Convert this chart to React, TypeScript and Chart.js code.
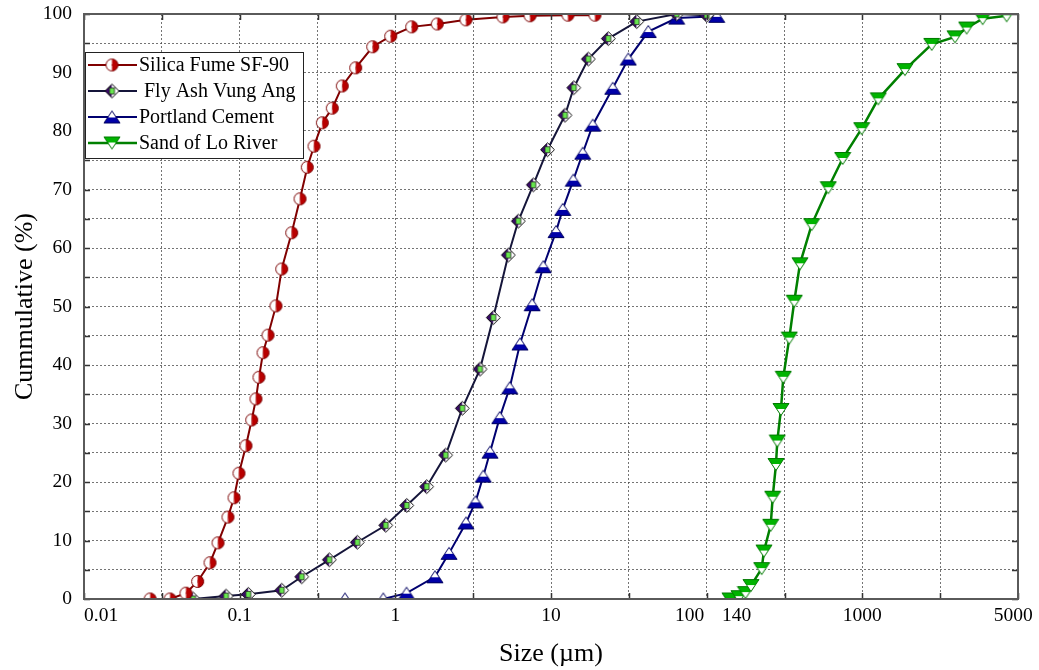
import React, { useEffect, useRef } from 'react';
import { Chart, registerables } from 'chart.js';

Chart.register(...registerables);

// ---------------- data ----------------
const seriesNames = ['Silica Fume SF-90', 'Fly Ash Vung Ang', 'Portland Cement', 'Sand of Lo River'];

const silicaSize = [0.0266, 0.0357, 0.0452, 0.0537, 0.0645, 0.0726, 0.0841, 0.092, 0.099, 0.1098, 0.1195, 0.1273, 0.1331, 0.1413, 0.1521, 0.1711, 0.1862, 0.2159, 0.2442, 0.2719, 0.3003, 0.3396, 0.3936, 0.4563, 0.5564, 0.7155, 0.9337, 1.274, 1.86, 2.844, 4.916, 7.33, 12.85, 19.17];
const silicaCum = [0, 0, 1.0, 3.0, 6.2, 9.6, 14.0, 17.3, 21.5, 26.2, 30.6, 34.2, 37.9, 42.1, 45.1, 50.1, 56.4, 62.6, 68.4, 73.8, 77.4, 81.4, 83.9, 87.7, 90.8, 94.4, 96.2, 97.8, 98.3, 99.0, 99.5, 99.7, 99.8, 99.8];

const flyAshSize = [0.0502, 0.0817, 0.1136, 0.1862, 0.2504, 0.3765, 0.5697, 0.8672, 1.183, 1.59, 2.106, 2.693, 3.499, 4.259, 5.318, 6.164, 7.695, 9.495, 12.3, 14.01, 17.36, 23.34, 35.52, 64.18, 100.0];
const flyAshCum = [0, 0.5, 0.8, 1.5, 3.8, 6.7, 9.7, 12.6, 16.0, 19.2, 24.6, 32.6, 39.3, 48.1, 58.8, 64.6, 70.8, 76.8, 82.7, 87.4, 92.3, 95.8, 98.7, 100, 99.8];

const cementSize = [0.4749, 0.837, 1.18, 1.798, 2.212, 2.843, 3.273, 3.674, 4.057, 4.682, 5.428, 6.321, 7.57, 8.924, 10.77, 11.89, 13.91, 15.98, 18.53, 24.91, 31.37, 42.17, 64.18, 116.0];
const cementCum = [0, 0, 1.0, 3.8, 7.8, 13.0, 16.6, 21.0, 25.1, 31.0, 36.1, 43.6, 50.3, 56.8, 62.8, 66.6, 71.6, 76.2, 81.0, 87.3, 92.3, 97.0, 99.3, 99.6];

const sandSize = [141.2, 161.3, 177.6, 192.6, 225.6, 233.4, 257.8, 265.5, 278.8, 284.2, 300.2, 310.6, 339.5, 365.4, 397.6, 472.7, 604.3, 747.5, 990.4, 1266, 1879, 2790, 3939, 4681, 5931, 8459];
const sandCum = [0, 0.4, 1.1, 2.3, 5.2, 8.2, 12.6, 17.4, 23.0, 27.0, 32.4, 37.9, 44.6, 50.9, 57.3, 64.0, 70.3, 75.3, 80.4, 85.5, 90.5, 94.8, 96.1, 97.6, 99.2, 99.7];

const xTickValues = [0.01, 0.1, 1, 10, 100, 140, 1000, 10000];
const xTickLabels = ['0.01', '0.1', '1', '10', '100', '140', '1000', '5000'];
const xGridExponents = [-2, -1.5, -1, -0.5, 0, 0.5, 1, 1.5, 2, 2.5, 3, 3.5, 4];
const yTickLabelsEvery = 10;

const xTitle = 'Size (\u00b5m)';
const yTitle = 'Cummulative (%)';

// ---------------- styles ----------------
const FONT = '"Liberation Serif", "Times New Roman", serif';
const TICK_FONT_SIZE = 19.5;
const lineColors = ['#800000', '#15153a', '#000070', '#008000'];
const lineWidths = [2, 2, 2, 2.5];
const gridColor = 'rgba(70,70,70,0.75)';
// visual nudges of some tick labels (px), as in the reference
const labelShift: Record<string, number> = { '0.01': 17, '100': -18, '140': 7, '5000': -5 };

function makeMarker(kind: string): HTMLCanvasElement {
  const c = document.createElement('canvas');
  const ctx = c.getContext('2d') as CanvasRenderingContext2D;
  if (kind === 'circle') {
    c.width = 15; c.height = 15;
    const cx = 7.5, cy = 7.5, r = 6;
    ctx.beginPath(); ctx.arc(cx, cy, r, Math.PI / 2, Math.PI * 1.5); ctx.closePath();
    ctx.fillStyle = '#ffffff'; ctx.fill();
    ctx.beginPath(); ctx.arc(cx, cy, r, -Math.PI / 2, Math.PI / 2); ctx.closePath();
    ctx.fillStyle = '#b80000'; ctx.fill();
    ctx.beginPath(); ctx.arc(cx, cy, r, 0, Math.PI * 2);
    ctx.strokeStyle = '#7a0000'; ctx.lineWidth = 1; ctx.stroke();
  } else if (kind === 'diamond') {
    c.width = 17; c.height = 17;
    const cx = 8.5, cy = 8.5, h = 7;
    ctx.beginPath(); ctx.moveTo(cx, cy - h); ctx.lineTo(cx - h, cy); ctx.lineTo(cx, cy + h); ctx.closePath();
    ctx.fillStyle = '#3a0a6a'; ctx.fill();
    ctx.beginPath(); ctx.moveTo(cx, cy - h); ctx.lineTo(cx + h, cy); ctx.lineTo(cx, cy + h); ctx.closePath();
    ctx.fillStyle = '#ffffff'; ctx.fill();
    ctx.beginPath(); ctx.moveTo(cx, cy - h); ctx.lineTo(cx + h, cy); ctx.lineTo(cx, cy + h); ctx.lineTo(cx - h, cy); ctx.closePath();
    ctx.strokeStyle = '#111111'; ctx.lineWidth = 1; ctx.stroke();
    ctx.fillStyle = '#66e64d'; ctx.fillRect(cx - 2.5, cy - 3, 5, 6);
    ctx.strokeStyle = '#222222'; ctx.lineWidth = 0.8; ctx.strokeRect(cx - 2.5, cy - 3, 5, 6);
  } else if (kind === 'triUp') {
    c.width = 18; c.height = 15;
    ctx.save();
    ctx.beginPath(); ctx.moveTo(9, 1.5); ctx.lineTo(17, 13.5); ctx.lineTo(1, 13.5); ctx.closePath();
    ctx.clip();
    ctx.fillStyle = '#ffffff'; ctx.fillRect(0, 0, 18, 8);
    ctx.fillStyle = '#0000a8'; ctx.fillRect(0, 8, 18, 7);
    ctx.restore();
    ctx.beginPath(); ctx.moveTo(9, 1.5); ctx.lineTo(17, 13.5); ctx.lineTo(1, 13.5); ctx.closePath();
    ctx.strokeStyle = '#000060'; ctx.lineWidth = 1; ctx.stroke();
  } else {
    c.width = 18; c.height = 15;
    ctx.save();
    ctx.beginPath(); ctx.moveTo(1, 1.5); ctx.lineTo(17, 1.5); ctx.lineTo(9, 13.5); ctx.closePath();
    ctx.clip();
    ctx.fillStyle = '#00b400'; ctx.fillRect(0, 0, 18, 7);
    ctx.fillStyle = '#ffffff'; ctx.fillRect(0, 7, 18, 8);
    ctx.restore();
    ctx.beginPath(); ctx.moveTo(1, 1.5); ctx.lineTo(17, 1.5); ctx.lineTo(9, 13.5); ctx.closePath();
    ctx.strokeStyle = '#007a00'; ctx.lineWidth = 1; ctx.stroke();
  }
  return c;
}

function padLabel(label: string): string {
  const shift = labelShift[label] || 0;
  if (!shift) return label;
  const n = Math.max(1, Math.round((Math.abs(shift) * 2) / (0.25 * TICK_FONT_SIZE)));
  const sp = ' '.repeat(n);
  return shift > 0 ? sp + label : label + sp;
}

export default function App() {
  const ref = useRef<HTMLCanvasElement | null>(null);

  useEffect(() => {
    if (!ref.current) return;
    const markers = [makeMarker('circle'), makeMarker('diamond'), makeMarker('triUp'), makeMarker('triDown')];
    const xs = [silicaSize, flyAshSize, cementSize, sandSize];
    const ys = [silicaCum, flyAshCum, cementCum, sandCum];

    const gridValues = xGridExponents.map((e) => Math.pow(10, e));
    const allTicks = Array.from(new Set([...gridValues, ...xTickValues])).sort((a, b) => a - b);
    const near = (a: number, b: number) => Math.abs(Math.log10(a) - Math.log10(b)) < 1e-6;
    const isGrid = (v: number) => gridValues.some((g) => near(g, v));

    const decorPlugin = {
      id: 'decor',
      afterDatasetsDraw(chart: any) {
        const { ctx, chartArea } = chart;
        const { left, right, top, bottom } = chartArea;
        const xScale = chart.scales.x;
        const yScale = chart.scales.y;
        ctx.save();
        ctx.strokeStyle = '#333333';
        ctx.lineWidth = 1.5;
        ctx.beginPath();
        gridValues.forEach((v) => {
          const px = Math.round(xScale.getPixelForValue(v)) + 0.5;
          ctx.moveTo(px, bottom); ctx.lineTo(px, bottom - 6);
          ctx.moveTo(px, top); ctx.lineTo(px, top + 6);
        });
        for (let v = 0; v <= 100; v += 5) {
          const py = Math.round(yScale.getPixelForValue(v)) + 0.5;
          ctx.moveTo(left, py); ctx.lineTo(left + 6, py);
          ctx.moveTo(right, py); ctx.lineTo(right - 6, py);
        }
        ctx.stroke();
        ctx.strokeStyle = '#5a5a5a';
        ctx.lineWidth = 2;
        ctx.strokeRect(left, top, right - left, bottom - top);
        ctx.restore();
      },
      afterDraw(chart: any) {
        const { ctx, chartArea } = chart;
        const bx = chartArea.left + 1;
        const by = chartArea.top + 38;
        const bw = 218;
        const rowH = 26;
        const bh = rowH * seriesNames.length + 2;
        ctx.save();
        ctx.fillStyle = '#ffffff';
        ctx.fillRect(bx, by, bw, bh);
        ctx.strokeStyle = '#222222';
        ctx.lineWidth = 1;
        ctx.strokeRect(bx + 0.5, by + 0.5, bw, bh);
        ctx.font = `20px ${FONT}`;
        ctx.textBaseline = 'middle';
        ctx.textAlign = 'left';
        seriesNames.forEach((name, i) => {
          const cy = by + 13 + i * rowH;
          ctx.strokeStyle = lineColors[i];
          ctx.lineWidth = lineWidths[i];
          ctx.beginPath();
          ctx.moveTo(bx + 3, cy); ctx.lineTo(bx + 52, cy);
          ctx.stroke();
          const m = markers[i];
          ctx.drawImage(m, bx + 27 - m.width / 2, cy - m.height / 2);
          ctx.fillStyle = '#000000';
          ctx.fillText((i === 1 ? ' ' : '') + name, bx + 54, cy + 1);
        });
        ctx.restore();
      },
    };

    const chart = new Chart(ref.current, {
      type: 'line',
      data: {
        datasets: seriesNames.map((name, i) => ({
          label: name,
          data: xs[i].map((x, k) => ({ x, y: ys[i][k] })),
          borderColor: lineColors[i],
          backgroundColor: lineColors[i],
          borderWidth: lineWidths[i],
          pointStyle: markers[i] as any,
          pointRadius: 6,
          pointHoverRadius: 6,
          fill: false,
          tension: 0,
        })),
      },
      options: {
        responsive: false,
        animation: false,
        devicePixelRatio: 1,
        events: [],
        layout: { padding: { left: 0, right: 21, top: 14, bottom: 0 } },
        plugins: {
          legend: { display: false },
          tooltip: { enabled: false },
          title: { display: false },
        },
        scales: {
          x: {
            type: 'logarithmic',
            min: 0.01,
            max: 10000,
            afterBuildTicks: (scale: any) => {
              scale.ticks = allTicks.map((v) => ({ value: v }));
            },
            afterFit: (scale: any) => {
              scale.height = 71;
              scale.paddingLeft = 0;
              scale.paddingRight = 0;
            },
            ticks: {
              autoSkip: false,
              maxRotation: 0,
              minRotation: 0,
              padding: 5,
              color: '#000000',
              font: { family: FONT, size: TICK_FONT_SIZE },
              callback: (value: any) => {
                const idx = xTickValues.findIndex((t) => near(t, Number(value)));
                return idx >= 0 ? padLabel(xTickLabels[idx]) : '';
              },
            },
            grid: {
              drawTicks: false,
              color: (ctx: any) => (ctx.tick && isGrid(ctx.tick.value) ? gridColor : 'rgba(0,0,0,0)'),
              lineWidth: 1,
            },
            border: { display: false, dash: [2, 2] },
            title: {
              display: true,
              text: xTitle,
              color: '#000000',
              font: { family: FONT, size: 26 },
              padding: { top: 0, bottom: 0 },
            },
          } as any,
          y: {
            type: 'linear',
            min: 0,
            max: 100,
            afterFit: (scale: any) => {
              scale.width = 84;
              scale.paddingTop = 0;
              scale.paddingBottom = 0;
            },
            ticks: {
              stepSize: 5,
              padding: 12,
              color: '#000000',
              font: { family: FONT, size: TICK_FONT_SIZE },
              callback: (value: any) => (Number(value) % yTickLabelsEvery === 0 ? String(value) : ''),
            },
            grid: {
              drawTicks: false,
              color: gridColor,
              lineWidth: 1,
            },
            border: { display: false, dash: [2, 2] },
            title: {
              display: true,
              text: yTitle,
              color: '#000000',
              font: { family: FONT, size: 26 },
              padding: { top: 10, bottom: 0 },
            },
          } as any,
        },
      } as any,
      plugins: [decorPlugin as any],
    });

    return () => chart.destroy();
  }, []);

  return (
    <div style={{ position: 'absolute', left: 0, top: 0, width: 1039, height: 670, background: '#ffffff' }}>
      <canvas ref={ref} width={1039} height={670} style={{ display: 'block' }} />
    </div>
  );
}
